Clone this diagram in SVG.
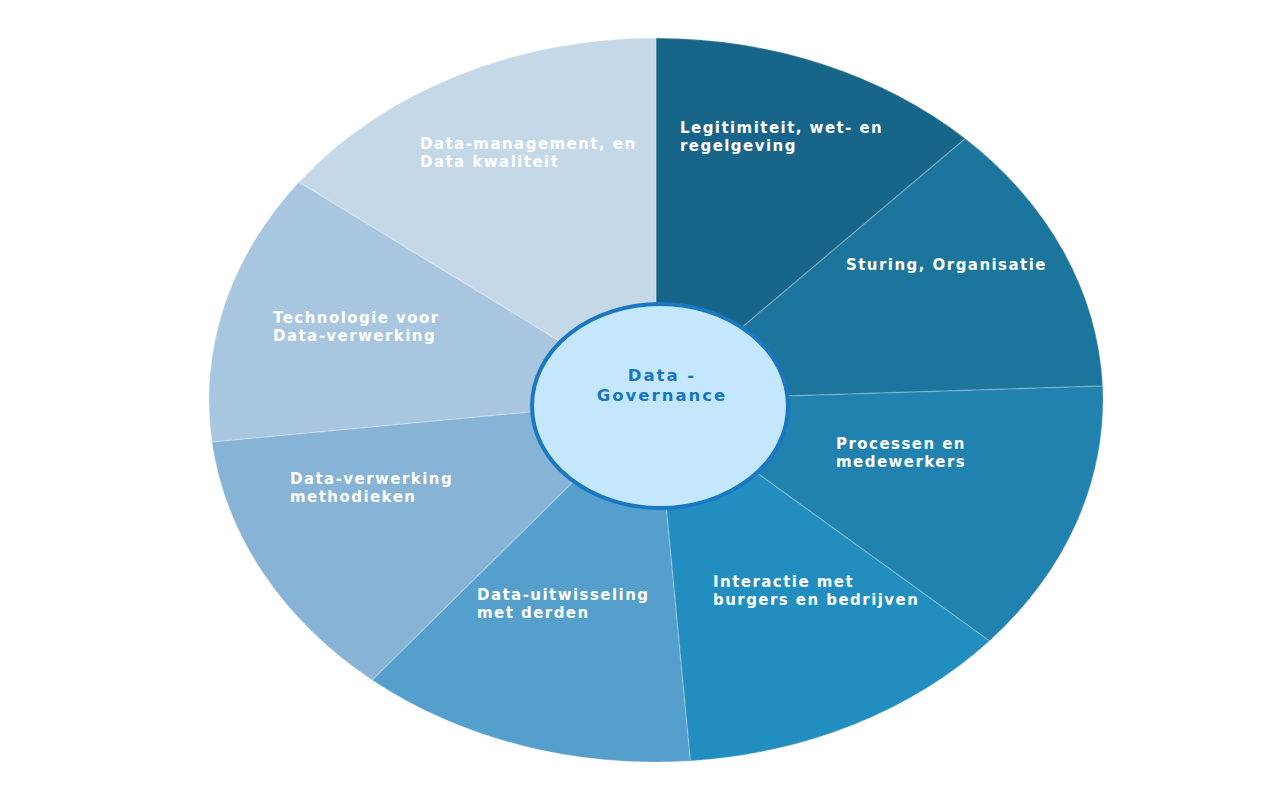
<svg xmlns="http://www.w3.org/2000/svg" width="1280" height="800" viewBox="0 0 1280 800">
<style>
.seg{stroke:#ffffff;stroke-opacity:0.18;stroke-width:1.5;stroke-linejoin:round}
.lbl{font-family:"DejaVu Sans",Verdana,sans-serif;font-weight:bold;font-size:15px;letter-spacing:1.45px;fill:#ffffff}
.ctr{font-family:"DejaVu Sans",Verdana,sans-serif;font-weight:bold;font-size:16.5px;letter-spacing:2px;fill:#1676C4;text-anchor:middle}
</style>
<rect width="1280" height="800" fill="#ffffff"/>
<g id="seg-legitimiteit">
<path class="seg" fill="#17668A" d="M656 400 L656 38 A447 362 0 0 1 965.3 138.6 Z"/>
<text class="lbl" x="680" y="133">Legitimiteit, wet- en</text>
<text class="lbl" x="680" y="151">regelgeving</text>
</g>
<g id="seg-sturing">
<path class="seg" fill="#1B759C" d="M656 400 L965.3 138.6 A447 362 0 0 1 1102.7 386.1 Z"/>
<text class="lbl" x="846" y="270">Sturing, Organisatie</text>
</g>
<g id="seg-processen">
<path class="seg" fill="#2182B0" d="M656 400 L1102.7 386.1 A447 362 0 0 1 989.5 641 Z"/>
<text class="lbl" x="836" y="449">Processen en</text>
<text class="lbl" x="836" y="467">medewerkers</text>
</g>
<g id="seg-interactie">
<path class="seg" fill="#228EC0" d="M656 400 L989.5 641 A447 362 0 0 1 690.3 761 Z"/>
<text class="lbl" x="713" y="587">Interactie met</text>
<text class="lbl" x="713" y="605">burgers en bedrijven</text>
</g>
<g id="seg-uitwisseling">
<path class="seg" fill="#549FCB" d="M656 400 L690.3 761 A447 362 0 0 1 372 680 Z"/>
<text class="lbl" x="477" y="600">Data-uitwisseling</text>
<text class="lbl" x="477" y="618">met derden</text>
</g>
<g id="seg-methodieken">
<path class="seg" fill="#86B3D6" d="M656 400 L372 680 A447 362 0 0 1 212 442 Z"/>
<text class="lbl" x="290" y="484">Data-verwerking</text>
<text class="lbl" x="290" y="502">methodieken</text>
</g>
<g id="seg-technologie">
<path class="seg" fill="#A8C6DF" d="M656 400 L212 442 A447 362 0 0 1 299 182 Z"/>
<text class="lbl" x="273" y="323">Technologie voor</text>
<text class="lbl" x="273" y="341">Data-verwerking</text>
</g>
<g id="seg-datamanagement">
<path class="seg" fill="#C5D8E8" d="M656 400 L299 182 A447 362 0 0 1 656 38 Z"/>
<text class="lbl" x="420" y="149">Data-management, en</text>
<text class="lbl" x="420" y="167">Data kwaliteit</text>
</g>
<g id="connectors"></g>
<g id="center">
<ellipse cx="660" cy="406" rx="128" ry="102" fill="#C4E7FD" stroke="#1A78C2" stroke-width="4"/>
<text class="ctr" x="662" y="381">Data -</text>
<text class="ctr" x="662" y="401">Governance</text>
</g>
</svg>
